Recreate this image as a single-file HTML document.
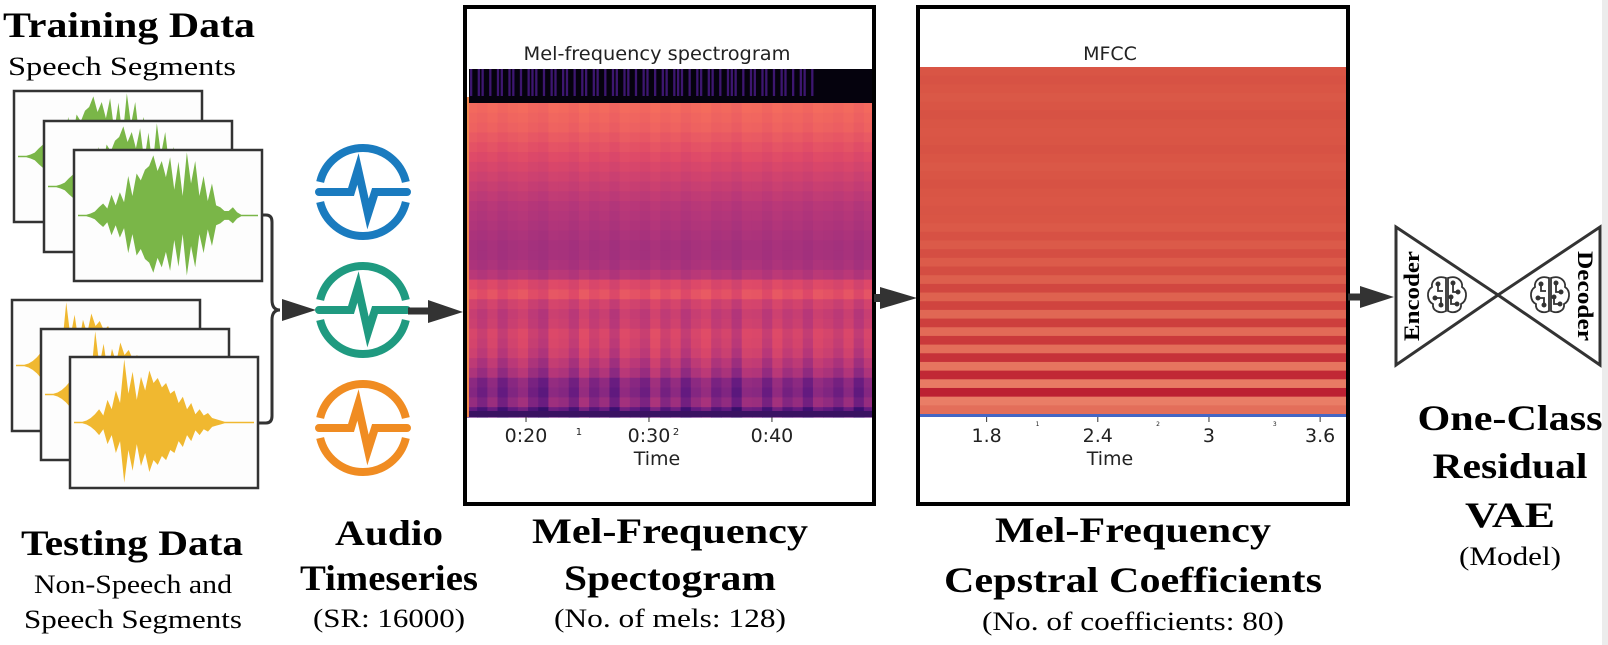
<!DOCTYPE html>
<html><head><meta charset="utf-8"><style>
html,body{margin:0;padding:0;background:#fff;width:1608px;height:645px;overflow:hidden}
svg{display:block}
.b{font-family:"Liberation Serif",serif;font-weight:bold;fill:#000}
.r{font-family:"Liberation Serif",serif;fill:#000}
.s{font-family:"DejaVu Sans",sans-serif;fill:#222}
</style></head><body>
<svg id="root" width="1608" height="645" viewBox="0 0 1608 645" xmlns="http://www.w3.org/2000/svg">
<rect x="1602" y="0" width="6" height="645" fill="#ececec"/>
<text class="b" x="3" y="37" font-size="36" textLength="252" lengthAdjust="spacingAndGlyphs">Training Data</text>
<text class="r" x="8" y="75" font-size="26" textLength="228" lengthAdjust="spacingAndGlyphs">Speech Segments</text>
<g id="cards"></g>
<g fill="none" stroke="#333" stroke-width="3">
<path d="M261,215 H266 Q272,215 272,222 V300 Q272,310 280,310"/>
<path d="M258,423 H266 Q272,423 272,416 V320 Q272,310 280,310"/>
</g>
<polygon points="282,299 316,310 282,321" fill="#333"/>
<g id="icons"></g>
<line x1="408" y1="311" x2="432" y2="311" stroke="#333" stroke-width="7"/>
<polygon points="428,300 463,312 428,323" fill="#333"/>
<g id="spec"></g>
<rect x="465" y="7" width="409" height="497" fill="none" stroke="#000" stroke-width="4"/>
<rect x="874" y="294" width="8" height="8" fill="#333"/>
<polygon points="880,287 917,298 880,309" fill="#333"/>
<g id="mfcc"></g>
<rect x="918" y="7" width="430" height="497" fill="none" stroke="#000" stroke-width="4"/>
<line x1="1348" y1="297" x2="1364" y2="297" stroke="#333" stroke-width="7"/>
<polygon points="1360,286 1394,297 1360,308" fill="#333"/>
<g>
<polygon points="1396,227 1396,365 1498,295" fill="#fff" stroke="#333" stroke-width="3"/>
<polygon points="1600,227 1600,365 1498,295" fill="#fff" stroke="#333" stroke-width="3"/>
<text class="b" transform="translate(1419,296) rotate(-90)" text-anchor="middle" font-size="22" textLength="90" lengthAdjust="spacingAndGlyphs">Encoder</text>
<text class="b" transform="translate(1578,296) rotate(90)" text-anchor="middle" font-size="22" textLength="90" lengthAdjust="spacingAndGlyphs">Decoder</text>
<g id="brains"></g>
</g>
<text class="b" x="132" y="555" font-size="36" text-anchor="middle" textLength="222" lengthAdjust="spacingAndGlyphs">Testing Data</text>
<text class="r" x="133" y="593" font-size="26" text-anchor="middle" textLength="198" lengthAdjust="spacingAndGlyphs">Non-Speech and</text>
<text class="r" x="133" y="628" font-size="26" text-anchor="middle" textLength="218" lengthAdjust="spacingAndGlyphs">Speech Segments</text>
<text class="b" x="389" y="545" font-size="36" text-anchor="middle" textLength="108" lengthAdjust="spacingAndGlyphs">Audio</text>
<text class="b" x="389" y="590" font-size="36" text-anchor="middle" textLength="178" lengthAdjust="spacingAndGlyphs">Timeseries</text>
<text class="r" x="389" y="627" font-size="26" text-anchor="middle" textLength="152" lengthAdjust="spacingAndGlyphs">(SR: 16000)</text>
<text class="b" x="670" y="543" font-size="36" text-anchor="middle" textLength="276" lengthAdjust="spacingAndGlyphs">Mel-Frequency</text>
<text class="b" x="670" y="590" font-size="36" text-anchor="middle" textLength="212" lengthAdjust="spacingAndGlyphs">Spectogram</text>
<text class="r" x="670" y="627" font-size="26" text-anchor="middle" textLength="232" lengthAdjust="spacingAndGlyphs">(No. of mels: 128)</text>
<text class="b" x="1133" y="542" font-size="36" text-anchor="middle" textLength="276" lengthAdjust="spacingAndGlyphs">Mel-Frequency</text>
<text class="b" x="1133" y="592" font-size="36" text-anchor="middle" textLength="378" lengthAdjust="spacingAndGlyphs">Cepstral Coefficients</text>
<text class="r" x="1133" y="630" font-size="26" text-anchor="middle" textLength="302" lengthAdjust="spacingAndGlyphs">(No. of coefficients: 80)</text>
<text class="b" x="1510" y="430" font-size="36" text-anchor="middle" textLength="185" lengthAdjust="spacingAndGlyphs">One-Class</text>
<text class="b" x="1510" y="478" font-size="36" text-anchor="middle" textLength="155" lengthAdjust="spacingAndGlyphs">Residual</text>
<text class="b" x="1510" y="527" font-size="36" text-anchor="middle" textLength="90" lengthAdjust="spacingAndGlyphs">VAE</text>
<text class="r" x="1510" y="565" font-size="26" text-anchor="middle" textLength="102" lengthAdjust="spacingAndGlyphs">(Model)</text>
</svg>
<script>
const greenEnv=[0,0,0,0.02,0.05,0.12,0.18,0.1,0.32,0.15,0.36,0.2,0.62,0.3,0.66,0.55,0.72,0.78,0.95,0.7,0.86,0.6,0.92,0.4,0.85,0.3,1.0,0.5,0.86,0.3,0.62,0.22,0.5,0.15,0.12,0.06,0.06,0.12,0.04,0,0,0,0,0];
const yellowEnv=[0,0,0,0.02,0.06,0.12,0.2,0.1,0.35,0.2,0.5,0.3,1.0,0.45,0.8,0.35,0.72,0.5,0.82,0.62,0.7,0.55,0.62,0.45,0.5,0.3,0.4,0.2,0.3,0.12,0.2,0.1,0.14,0.06,0.04,0.02,0,0,0,0,0,0,0,0];
const specBands=[0.68,0.67,0.66,0.64,0.62,0.6,0.58,0.56,0.54,0.52,0.5,0.49,0.48,0.47,0.46,0.46,0.47,0.5,0.59,0.62,0.56,0.53,0.54,0.57,0.56,0.54,0.5,0.46,0.38,0.36,0.4,0.28];
const specCols=[0.02,-0.04,0.03,-0.06,0.01,0.05,-0.03,-0.08,0.04,0.02,-0.05,0.06,-0.02,0.03,-0.07,0.05,0.01,-0.04,0.07,-0.02,0.04,-0.06,0.02,0.06,-0.03,0.01,-0.08,0.04,0.03,-0.05,0.05,-0.02,0.02,-0.06,0.04,0.01,-0.04,0.03,-0.07,0.02];
const specStripes=[1,0,1,1,0,1,0,1,1,0,1,1,0,1,0,1,1,1,0,1,0,1,1,0,1,1,0,1,0,1,1,0,1,1,0,1,0,1,1,0,1,1,0,1,0,1,1,0,1,0,1,1,0,1,1,1,0,1,0,1,1,0,1,1,0,1,0,1,1,1,0,1,0,1,1,0,1,1,0,1,0,1,1,0,1,0,1,1,0,1,0,0,0,0,0,0];
const specTicks=["0:20","0:30","0:40"];
const specTickVals=[20,30,40];
const specMinor=["1","2"];
const specMinorVals=[24.3,32.2];
const mfccRows=[0.5,0.52,0.5,0.48,0.5,0.52,0.5,0.49,0.5,0.52,0.5,0.48,0.5,0.52,0.5,0.49,0.51,0.5,0.47,0.53,0.46,0.55,0.45,0.56,0.42,0.6,0.4,0.62,0.36,0.66,0.33,0.7,0.3,0.75,0.25,0.82,0.2,0.88,0.18,0.3];
const mfccTicks=["1.8","2.4","3","3.6"];
const mfccTickVals=[1.8,2.4,3.0,3.6];
const mfccMinor=["1","2","3"];
const mfccMinorVals=[2.075,2.725,3.355];

const NS="http://www.w3.org/2000/svg";
function mk(tag,attrs,parent){const e=document.createElementNS(NS,tag);for(const k in attrs)e.setAttribute(k,attrs[k]);parent.appendChild(e);return e;}
function lerpHex(a,b,t){const pa=[1,3,5].map(i=>parseInt(a.substr(i,2),16)),pb=[1,3,5].map(i=>parseInt(b.substr(i,2),16));return"rgb("+pa.map((v,i)=>Math.round(v+(pb[i]-v)*t)).join(",")+")";}
function cmap(stops,v){v=Math.max(0,Math.min(1,v));const n=stops.length-1;const i=Math.min(n-1,Math.floor(v*n));return lerpHex(stops[i],stops[i+1],v*n-i);}
const magma=["#000004","#140e36","#3b0f70","#641a80","#8c2981","#b73779","#de4968","#f7705c","#fe9f6d","#fecf92","#fcfdbf"];
const reds=["#f29479","#d95545","#b30f2c"];

const cards=document.getElementById('cards');
function card(x,y,env,color){
  const g=mk('g',{},cards);
  
  
  const w=188,h=131;
  mk('rect',{x:x,y:y,width:w,height:h,fill:'#fdfdfd'},g);
  const cy=y+h/2,amp=h/2-3,x0=x+4,x1=x+w-4;
  const sx=i=>x0+(x1-x0)*i/(env.length-1);
  let top=env.map((v,i)=>sx(i)+","+(cy-v*amp-0.8));
  let bot=env.map((v,i)=>sx(i)+","+(cy+v*amp*0.95+0.8)).reverse();
  const p=mk('polygon',{points:top.concat(bot).join(" "),fill:color},g);
  
  
  mk('rect',{x:x,y:y,width:w,height:h,fill:'none',stroke:'#333','stroke-width':2.5},g);
}
card(14,91,greenEnv,'#7ab648');card(44,121,greenEnv,'#7ab648');card(74,150,greenEnv,'#7ab648');
card(12,300,yellowEnv,'#f0b830');card(41,329,yellowEnv,'#f0b830');card(70,357,yellowEnv,'#f0b830');

const icons=document.getElementById('icons');
[["#1a7bbf",192],["#1f9a80",310],["#f08c22",428]].forEach(([c,cy])=>{
  const cx=363,r=44;
  const g=mk('g',{fill:'none',stroke:c,'stroke-width':8,'stroke-linecap':'round','stroke-linejoin':'miter'},icons);
  
  
  const a=Math.asin(10/r);
  const xs=r*Math.cos(a),ys=10;
  mk('path',{d:`M${cx-xs},${cy-ys} A${r},${r} 0 0 1 ${cx+xs},${cy-ys}`,'stroke-linecap':'butt'},g);
  mk('path',{d:`M${cx-xs},${cy+ys} A${r},${r} 0 0 0 ${cx+xs},${cy+ys}`,'stroke-linecap':'butt'},g);
  mk('path',{d:`M${cx-44},${cy} H${cx-12} L${cx-5},${cy-23} L${cx+5},${cy+22} L${cx+12},${cy} H${cx+44}`},g);
});

const spec=document.getElementById('spec');
const sx0=467,sx1=874,sy0=103,sy1=417;
const tmin=15.2,tmax=48.3;
const sX=t=>sx0+(t-tmin)/(tmax-tmin)*(sx1-sx0);
mk('text',{x:657,y:60,'font-size':19,'text-anchor':'middle',class:'s',textLength:267,lengthAdjust:'spacingAndGlyphs'},spec).textContent="Mel-frequency spectrogram";
const blk=mk('rect',{x:469,y:69,width:405,height:34,fill:'#05020d'},spec);


const sw=(838-470)/specStripes.length;
specStripes.forEach((v,i)=>{if(v){const r=mk('rect',{x:470+i*sw,y:69,width:sw*0.6,height:27,fill:'#3d1670'},spec);}});
const bh=(sy1-sy0)/specBands.length,cw=(sx1-sx0)/specCols.length;
specBands.forEach((v,ri)=>{
  const depth=ri/specBands.length;
  specCols.forEach((d,ci)=>{
    const k=depth<0.5?0.15:(depth-0.4)*2;
    const r=mk('rect',{x:sx0+ci*cw,y:sy0+ri*bh,width:cw+0.6,height:bh+0.6,fill:cmap(magma,v+d*k)},spec);
    
    
  });
});
mk('rect',{x:sx0,y:sy1-6,width:sx1-sx0,height:6,fill:'#3a1262'},spec);
mk('rect',{x:466,y:97,width:3,height:320,fill:'#f08a50'},spec);
specTicks.forEach((t,i)=>{const x=sX(specTickVals[i]);
  mk('line',{x1:x,y1:sy1,x2:x,y2:sy1+5,stroke:'#333','stroke-width':1},spec);
  const e=mk('text',{x:x,y:442,'font-size':19,'text-anchor':'middle',class:'s'},spec);e.textContent=t;
  });
specMinor.forEach((t,i)=>{const e=mk('text',{x:sX(specMinorVals[i]),y:435,'font-size':10,'text-anchor':'middle',class:'s'},spec);e.textContent=t;});
const st=mk('text',{x:657,y:465,'font-size':19,'text-anchor':'middle',class:'s'},spec);st.textContent="Time";


const mf=document.getElementById('mfcc');
const mx0=919,mx1=1347,my0=67,my1=414;
const mmin=1.435,mmax=3.745;
const mX=t=>mx0+(t-mmin)/(mmax-mmin)*(mx1-mx0);
mk('text',{x:1110,y:60,'font-size':19,'text-anchor':'middle',class:'s'},mf).textContent="MFCC";
const rh=(my1-my0)/mfccRows.length;
mfccRows.forEach((v,i)=>{const r=mk('rect',{x:mx0,y:my0+i*rh,width:mx1-mx0,height:rh+0.5,fill:cmap(reds,v)},mf);
  });
mk('rect',{x:mx0,y:my1,width:mx1-mx0,height:3,fill:'#4466c4'},mf);
mfccTicks.forEach((t,i)=>{const x=mX(mfccTickVals[i]);
  mk('line',{x1:x,y1:my1+3,x2:x,y2:my1+8,stroke:'#333','stroke-width':1},mf);
  const e=mk('text',{x:x,y:442,'font-size':19,'text-anchor':'middle',class:'s'},mf);e.textContent=t;
  });
mfccMinor.forEach((t,i)=>{const e=mk('text',{x:mX(mfccMinorVals[i]),y:426,'font-size':6,'text-anchor':'middle',class:'s'},mf);e.textContent=t;});
const mt=mk('text',{x:1110,y:465,'font-size':19,'text-anchor':'middle',class:'s'},mf);mt.textContent="Time";


const br=document.getElementById('brains');
[1447,1550].forEach(cx=>{const cy=295;
  const g=mk('g',{fill:'none',stroke:'#333','stroke-width':1.8},br);
  
  mk('path',{d:`M${cx-1},${cy-17} C${cx-10},${cy-20} ${cx-16},${cy-14} ${cx-15},${cy-8} C${cx-21},${cy-4} ${cx-20},${cy+6} ${cx-14},${cy+9} C${cx-15},${cy+16} ${cx-7},${cy+19} ${cx-1},${cy+16} Z`},g);
  mk('path',{d:`M${cx+1},${cy-17} C${cx+10},${cy-20} ${cx+16},${cy-14} ${cx+15},${cy-8} C${cx+21},${cy-4} ${cx+20},${cy+6} ${cx+14},${cy+9} C${cx+15},${cy+16} ${cx+7},${cy+19} ${cx+1},${cy+16} Z`},g);
  mk('path',{d:`M${cx-9},${cy-10} V${cy-4} H${cx-4} M${cx-12},${cy+3} H${cx-6} V${cy+10} M${cx+6},${cy-12} V${cy-3} H${cx+11} M${cx+4},${cy+2} V${cy+9} H${cx+10}`},g);
  [[-9,-11],[-12,3],[-6,10],[6,-12],[11,-3],[10,9],[4,2]].forEach(([dx,dy])=>mk('circle',{cx:cx+dx,cy:cy+dy,r:1.6,fill:'#333'},g));
});
</script>
</body></html>
